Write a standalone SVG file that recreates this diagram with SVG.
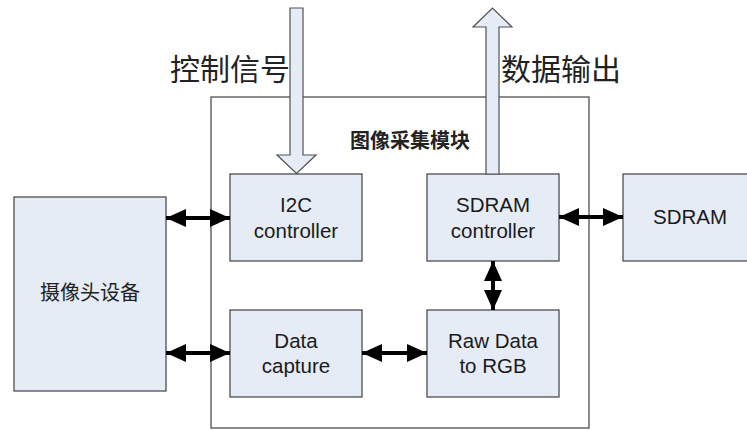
<svg xmlns="http://www.w3.org/2000/svg" width="747" height="430" viewBox="0 0 747 430">
  <style>
    .box { fill: #e6ecf6; stroke: #404040; stroke-width: 1.2; }
    .frame { fill: none; stroke: #404040; stroke-width: 1.2; }
    .bus { fill: #e6ecf6; stroke: #505050; stroke-width: 1.2; }
    .en { font-family: "Liberation Sans", Arial, sans-serif; font-size: 20.5px; fill: #1a1a1a; text-anchor: middle; }
    .cn { font-family: "Noto Sans CJK SC", "Noto Sans", sans-serif; fill: #222; text-anchor: middle; }
    .link { stroke: #000; stroke-width: 4; fill: none; marker-start: url(#head); marker-end: url(#head); }
  </style>
  <defs>
    <marker id="head" viewBox="0 0 20 18" refX="20" refY="9" markerWidth="20" markerHeight="18" markerUnits="userSpaceOnUse" orient="auto-start-reverse">
      <path d="M0,0 L20,9 L0,18 Z" fill="#000"/>
    </marker>
  </defs>

  <!-- image acquisition module frame -->
  <g id="module">
    <rect class="frame" x="211" y="97" width="378" height="331"/>
    <text class="cn" x="410" y="148" font-size="20" font-weight="bold" fill="#000">图像采集模块</text>
  </g>

  <!-- external signal labels -->
  <text class="cn" x="230" y="80" font-size="30">控制信号</text>
  <text class="cn" x="561" y="80" font-size="30">数据输出</text>

  <g id="camera">
    <rect class="box" x="14" y="197" width="152" height="194"/>
    <text class="cn" x="90" y="300" font-size="20">摄像头设备</text>
  </g>

  <g id="i2c">
    <rect class="box" x="230" y="174" width="132" height="87"/>
    <text class="en" x="296" y="212">I2C</text>
    <text class="en" x="296" y="238">controller</text>
  </g>

  <g id="capture">
    <rect class="box" x="230" y="310" width="132" height="87"/>
    <text class="en" x="296" y="348">Data</text>
    <text class="en" x="296" y="373">capture</text>
  </g>

  <g id="sdram-ctrl">
    <rect class="box" x="427" y="174" width="132" height="87"/>
    <text class="en" x="493" y="212">SDRAM</text>
    <text class="en" x="493" y="238">controller</text>
  </g>

  <g id="raw2rgb">
    <rect class="box" x="427" y="310" width="132" height="87"/>
    <text class="en" x="493" y="348">Raw Data</text>
    <text class="en" x="493" y="373">to RGB</text>
  </g>

  <g id="sdram">
    <rect class="box" x="623" y="174" width="140" height="87"/>
    <text class="en" x="690" y="224">SDRAM</text>
  </g>

  <g id="connectors">
    <!-- control bus in, data bus out -->
    <path class="bus" d="M290,8 H303 V155 H316 L296.5,173.5 L277,155 H290 Z"/>
    <path class="bus" d="M486,174 V27 H473 L492.5,8 L512,27 H499 V174 Z"/>
    <!-- bidirectional links -->
    <line class="link" x1="166" y1="218" x2="230" y2="218"/>
    <line class="link" x1="166" y1="353" x2="230" y2="353"/>
    <line class="link" x1="362" y1="353" x2="427" y2="353"/>
    <line class="link" x1="559" y1="217" x2="623" y2="217"/>
    <line class="link" x1="493" y1="261" x2="493" y2="310"/>
  </g>
</svg>
